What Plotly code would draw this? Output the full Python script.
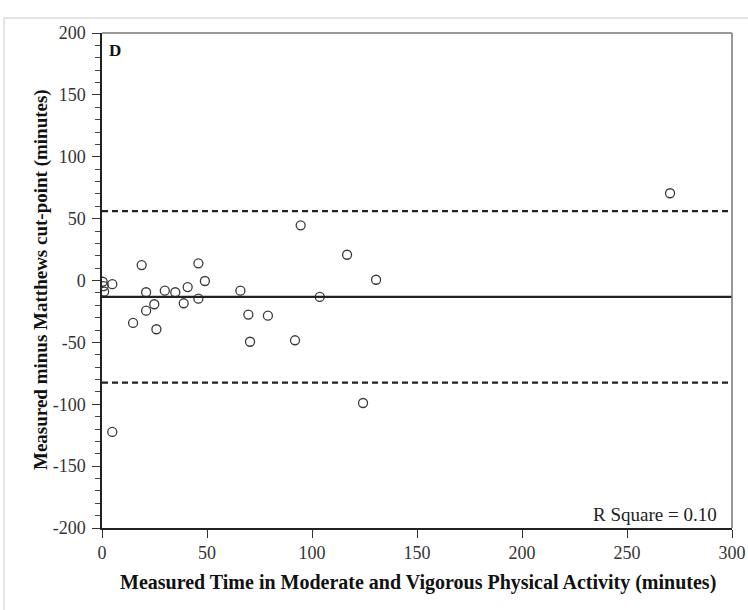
import plotly.graph_objects as go

# Data (Bland-Altman style plot, panel D)
mvpa_minutes = [0.3, 0.8, 1.0, 4.9, 4.9, 14.8, 18.9, 21.0, 21.0, 24.9, 25.9,
                29.9, 34.9, 38.9, 40.8, 45.9, 45.9, 49.0, 65.9, 69.7, 70.5,
                79.0, 91.9, 94.6, 103.7, 116.7, 124.3, 130.5, 270.5]
difference = [-1.0, -4.5, -9.0, -3.0, -122.4, -34.3, 12.5, -9.5, -24.4, -19.2, -39.4,
              -8.2, -9.5, -18.4, -5.3, 13.9, -14.7, -0.4, -8.2, -27.5, -49.5,
              -28.4, -48.3, 44.6, -13.3, 20.8, -99.0, 0.6, 70.5]

mean_difference = -13.2
upper_limit = 56.0
lower_limit = -82.6

x_ticks = [0, 50, 100, 150, 200, 250, 300]
y_ticks = [-200, -150, -100, -50, 0, 50, 100, 150, 200]

panel_label = "D"
r_square_text = "R Square = 0.10"
x_title = "Measured Time in Moderate and Vigorous Physical Activity (minutes)"
y_title = "Measured minus Matthews cut-point (minutes)"

FONT = "Liberation Serif, Times New Roman, serif"

W, H = 748, 610
PL, PR, PT, PB = 102, 732, 33, 528  # plot area in page pixels
PW, PH = PR - PL, PB - PT


def px(xp):
    return (xp - PL) / PW


def py(yp):
    return (PB - yp) / PH


fig = go.Figure()

fig.add_trace(go.Scatter(
    x=mvpa_minutes, y=difference, mode="markers",
    marker=dict(symbol="circle-open", size=9, color="#3a3a3a", line=dict(width=1.3, color="#3a3a3a")),
    showlegend=False, hoverinfo="x+y",
))

# Reference lines
for val, dash in [(mean_difference, "solid"), (upper_limit, "dash"), (lower_limit, "dash")]:
    fig.add_shape(type="line", xref="x", yref="y", x0=x_ticks[0], x1=x_ticks[-1], y0=val, y1=val,
                  line=dict(color="#222222", width=2.2, dash="solid" if dash == "solid" else "6px,4px"),
                  layer="above")

# Outer light frame
fig.add_shape(type="rect", xref="paper", yref="paper",
              x0=px(4), x1=px(770), y0=py(640), y1=py(18),
              line=dict(color="#dcdcdc", width=1.5), fillcolor="rgba(0,0,0,0)", layer="below")

fig.update_layout(
    width=W, height=H, autosize=False,
    margin=dict(l=PL, r=W - PR, t=PT, b=H - PB, autoexpand=False),
    paper_bgcolor="white", plot_bgcolor="white",
    font=dict(family=FONT, size=16, color="#222222"),
    xaxis=dict(
        range=[0, 300], tickvals=x_ticks, ticktext=[str(v) for v in x_ticks],
        showgrid=False, zeroline=False, automargin=False,
        showline=True, linecolor="#222222", linewidth=1.5, mirror=False,
        ticks="outside", ticklen=8, tickwidth=1.2, tickcolor="#333333",
        tickfont=dict(family=FONT, size=18, color="#333333"),
        ticklabeloverflow="allow",
    ),
    yaxis=dict(
        range=[-200, 200], tickvals=y_ticks, ticktext=[str(v) for v in y_ticks],
        showgrid=False, zeroline=False, automargin=False,
        showline=True, linecolor="#222222", linewidth=1.5, mirror=False,
        ticks="outside", ticklen=8, tickwidth=1.2, tickcolor="#333333",
        tickfont=dict(family=FONT, size=18, color="#333333"),
        ticklabelstandoff=3,
        minor=dict(dtick=10, ticks="outside", ticklen=5, tickwidth=1, tickcolor="#444444", showgrid=False),
    ),
    annotations=[
        dict(text="<b>" + panel_label + "</b>", xref="paper", yref="paper",
             x=px(107), y=py(50), xanchor="left", yanchor="middle",
             showarrow=False, font=dict(family=FONT, size=17, color="#111111")),
        dict(text=r_square_text, xref="paper", yref="paper",
             x=px(719), y=py(514), xanchor="right", yanchor="middle",
             showarrow=False, font=dict(family=FONT, size=19, color="#222222")),
        dict(text="<b>" + x_title + "</b>", xref="paper", yref="paper",
             x=px(418), y=py(582), xanchor="center", yanchor="middle",
             showarrow=False, font=dict(family=FONT, size=20, color="#111111")),
        dict(text="<b>" + y_title + "</b>", xref="paper", yref="paper",
             x=px(41), y=py(280), xanchor="center", yanchor="middle",
             textangle=-90, showarrow=False, font=dict(family=FONT, size=19, color="#111111")),
    ],
)

# Top and right frame lines (lighter gray)
fig.add_shape(type="line", xref="paper", yref="paper", x0=0, x1=1, y0=1, y1=1,
              line=dict(color="#777777", width=1.5))
fig.add_shape(type="line", xref="paper", yref="paper", x0=1, x1=1, y0=0, y1=1,
              line=dict(color="#777777", width=1.5))

fig.write_html(
    "out.html",
    config={"displayModeBar": False},
    post_script="document.body.style.margin='0';document.body.style.overflow='hidden';",
)
